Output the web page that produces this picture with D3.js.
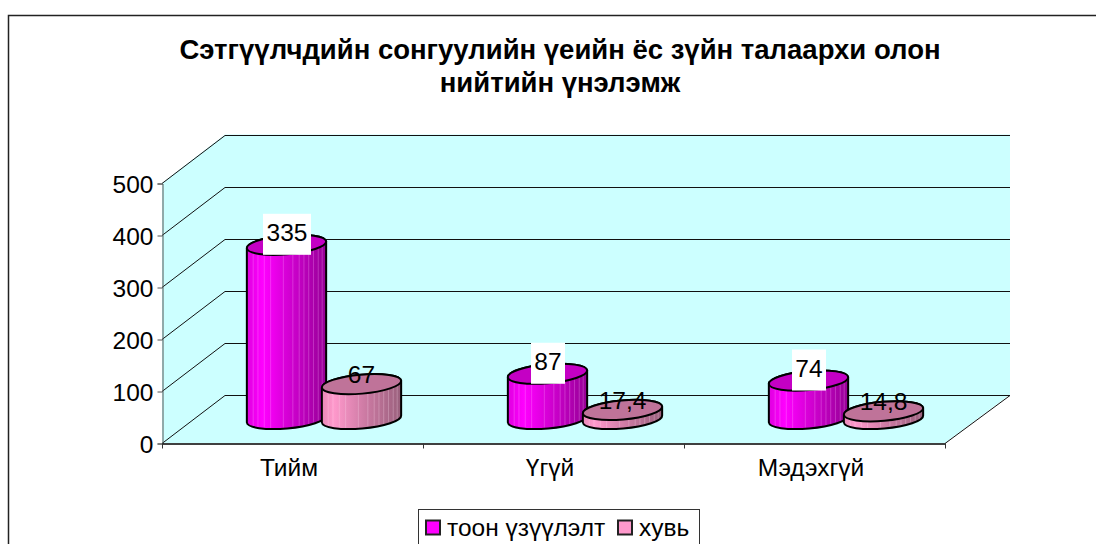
<!DOCTYPE html>
<html><head><meta charset="utf-8">
<script src="https://cdn.jsdelivr.net/npm/d3@7/dist/d3.min.js"></script>
<style>html,body{margin:0;padding:0;background:#fff;overflow:hidden}svg{display:block}text{font-family:"Liberation Sans",Arial,sans-serif;fill:#000}</style>
</head><body><svg id="c" width="1096" height="544"></svg>
<script>
const titleLines = ["Сэтгүүлчдийн сонгуулийн үеийн ёс зүйн талаархи олон", "нийтийн үнэлэмж"];
const categories = ["Тийм", "Үгүй", "Мэдэхгүй"];
const seriesNames = ["тоон үзүүлэлт", "хувь"];
const counts = [335, 87, 74];
const shares = [67, 17.4, 14.8];
const yTicks = [0, 100, 200, 300, 400, 500];
const streaks = [0.08,0.14,0.22,0.3,0.46,0.58,0.66,0.72,0.78,0.84,0.9,0.95];

const svg = d3.select("#c");
const W = {x0:162, x1:945, y0:443, y1:183, dx:63, dy:-48.5};
const y = d3.scaleLinear().domain([0,500]).range([W.y0,W.y1]);
const x = d3.scaleBand().domain(categories).range([W.x0,W.x1]);
const rx = 39.8, ry = 9.5, rot = -5;
const baseY = W.y0 - 24;
const seriesOffset = [x.bandwidth()*0.5 - 6, x.bandwidth()*0.5 + 69];

const defs = svg.append("defs");
function grad(id, stops){
  const g = defs.append("linearGradient").attr("id",id);
  stops.forEach(s=>g.append("stop").attr("offset",s[0]).attr("stop-color",s[1]));
}
grad("gA",[[0,"#e000e0"],[0.2,"#ff00ff"],[0.55,"#d000d0"],[1,"#960096"]]);
grad("gB",[[0,"#e88ab8"],[0.15,"#ff99cc"],[0.55,"#cc7aa3"],[1,"#99607c"]]);

const W2 = svg.append("g");
const poly = pts => "M"+pts.map(p=>p.join(",")).join("L")+"Z";
const bx0=W.x0+W.dx, bx1=W.x1+65;
W2.append("path").attr("fill","#ccffff").attr("d",poly([[W.x0,W.y1],[bx0,W.y1+W.dy],[bx1,W.y1+W.dy],[bx1,W.y0+W.dy],[W.x1,W.y0],[W.x0,W.y0]]));
yTicks.forEach(t=>{
  W2.append("path").attr("fill","none").attr("stroke","#111").attr("stroke-width",1)
   .attr("d",`M${W.x0},${Math.round(y(t))+.5}L${bx0},${Math.round(y(t)+W.dy)+.5}L${bx1},${Math.round(y(t)+W.dy)+.5}`);
});
W2.append("path").attr("fill","none").attr("stroke","#111").attr("d",`M${W.x1},${W.y0+.5}L${bx1},${Math.round(W.y0+W.dy)+.5}`);

const ay = d3.axisLeft(y).tickValues(yTicks).tickSize(5).tickFormat(d3.format("d"));
const ga = svg.append("g").attr("transform",`translate(${W.x0+.5},0.5)`).call(ay);
const ax = d3.axisBottom(x).tickSize(0);
const gx = svg.append("g").attr("transform",`translate(0,${W.y0+.5})`).call(ax);
[W.x0,W.x0+261,W.x0+522,W.x1].forEach(t=>gx.append("line").attr("x1",t+.5).attr("x2",t+.5).attr("y1",0).attr("y2",5).attr("stroke","#333"));
ga.selectAll("path,line").attr("stroke","#555");
gx.selectAll("path").attr("stroke","#000").attr("stroke-width",1.5);
ga.selectAll("text").attr("font-size",24.5).attr("dx",-1).attr("dy","0.35em").attr("font-family","Liberation Sans");
gx.selectAll(".tick text").attr("font-size",24.5).attr("x",-3.5).attr("y",24).attr("dy","0.35em").attr("font-family","Liberation Sans");

const ang = rot*Math.PI/180, ex=rx*Math.cos(ang), ey=rx*Math.sin(ang);
function cyl(cx, top, fill, topFill, streakColor){
  const g = svg.append("g");
  const hw = ex;
  const body = `M${cx-hw},${top-ey}A${rx},${ry} ${rot} 0 1 ${cx+hw},${top+ey}L${cx+hw},${baseY+ey}A${rx},${ry} ${rot} 0 1 ${cx-hw},${baseY-ey}Z`;
  g.append("path").attr("fill",`url(#${fill})`).attr("d",body);
  streaks.forEach(f=>{
    const sx = cx-hw+2*hw*f;
    const h = Math.sqrt(Math.max(0,1-Math.pow((sx-cx)/rx,2)))*ry;
    g.append("line").attr("x1",sx).attr("x2",sx).attr("y1",top+h-(sx-cx)*Math.tan(-ang)).attr("y2",baseY+h-(sx-cx)*Math.tan(-ang)-1)
     .attr("stroke",streakColor).attr("stroke-opacity",0.28).attr("stroke-width",1);
  });
  g.append("path").attr("fill","none").attr("stroke","#000").attr("stroke-width",2).attr("stroke-linejoin","round").attr("d",body);
  g.append("ellipse").attr("cx",cx).attr("cy",top).attr("rx",rx).attr("ry",ry)
   .attr("transform",`rotate(${rot} ${cx} ${top})`).attr("fill",topFill).attr("stroke","#000").attr("stroke-width",2);
}
categories.forEach((c,i)=>{
  const cx = x(c)+seriesOffset[0];
  cyl(cx,y(counts[i]) - 24,"gA","#c400c4","#ffb0ff");
});
categories.forEach((c,i)=>{
  const cx = x(c)+seriesOffset[1];
  cyl(cx,y(shares[i]) - 24,"gB","#bf7399","#ffe0f0");
});
const fmt = v => String(v).replace(".",",");
categories.forEach((c,i)=>{
  const cx = x(c)+seriesOffset[0], t = y(counts[i])-24;
  const w = String(counts[i]).length*14+6;
  svg.append("rect").attr("x",cx-w/2+.5).attr("y",t-31).attr("width",w).attr("height",41).attr("fill","#fff");
  svg.append("text").attr("x",cx+.5).attr("y",t-12).attr("text-anchor","middle").attr("dy","0.35em").attr("font-size",24.5).text(fmt(counts[i]));
});
categories.forEach((c,i)=>{
  const cx = x(c)+seriesOffset[1], t = y(shares[i])-24;
  svg.append("text").attr("x",cx).attr("y",t-10).attr("text-anchor","middle").attr("dy","0.35em").attr("font-size",24.5).text(fmt(shares[i]));
});

svg.append("rect").attr("x",8.5).attr("y",15.5).attr("width",1200).attr("height",700).attr("fill","none").attr("stroke","#222").attr("stroke-width",1.5);

titleLines.forEach((l,i)=>svg.append("text").attr("x",560).attr("y",59+i*33).attr("text-anchor","middle").attr("font-size",27.5).attr("font-weight","bold").text(l));

const lg = svg.append("g");
lg.append("rect").attr("x",418.5).attr("y",509.5).attr("width",281).attr("height",40).attr("fill","#fff").attr("stroke","#333");
[[426,"#ff00ff",seriesNames[0],447],[618,"#ff99cc",seriesNames[1],639]].forEach(d=>{
  lg.append("rect").attr("x",d[0]).attr("y",520.5).attr("width",14).attr("height",14).attr("fill",d[1]).attr("stroke","#222").attr("stroke-width",2);
  lg.append("text").attr("x",d[3]).attr("y",536).attr("font-size",24.5).text(d[2]);
});
</script></body></html>
